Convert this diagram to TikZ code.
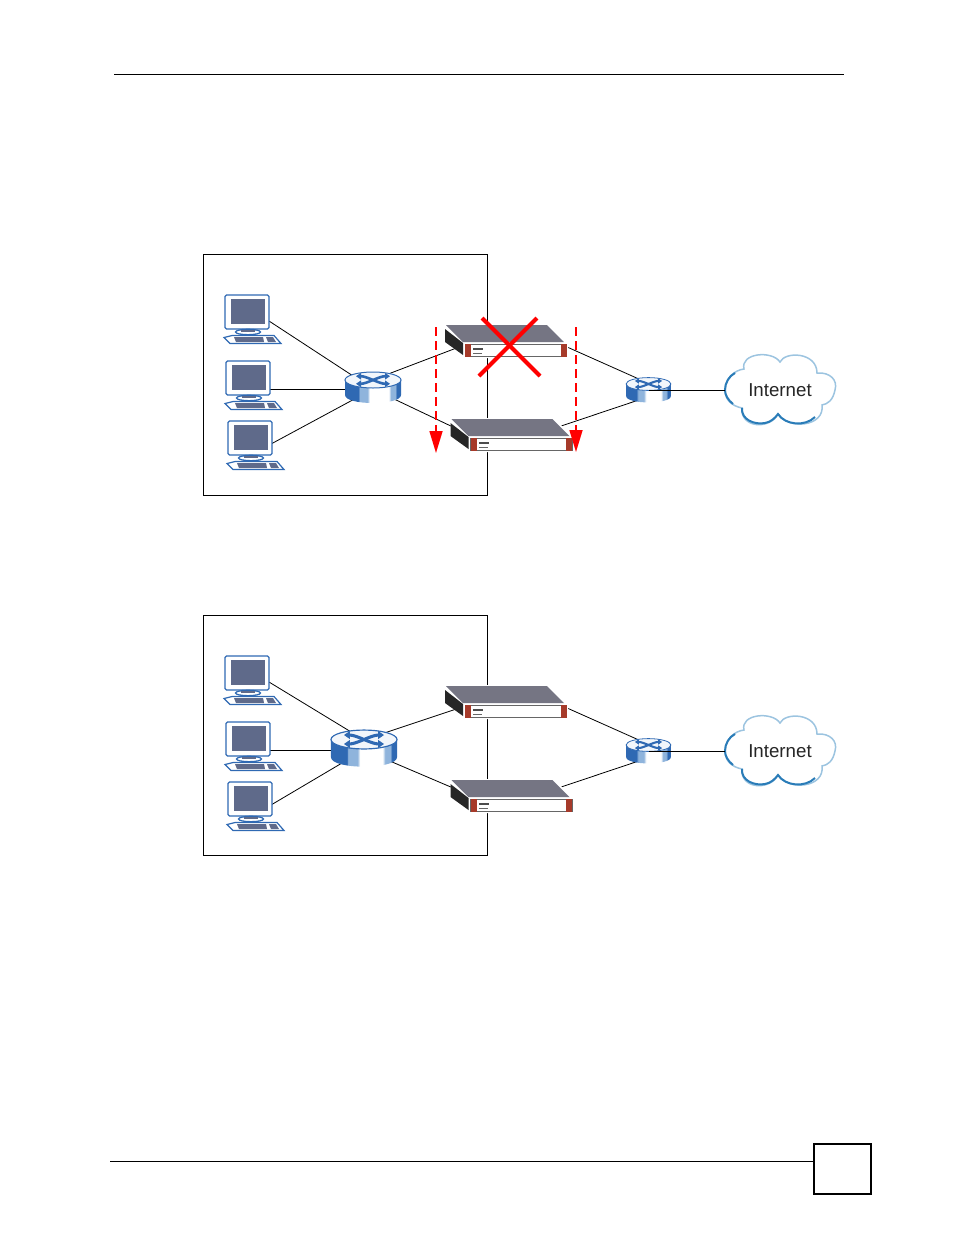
\documentclass[tikz,border=0pt]{standalone}
\usepackage{fontspec}
\setmainfont{Liberation Sans}
\usetikzlibrary{arrows.meta}
\definecolor{iconblue}{HTML}{2F69B3}
\definecolor{iconlight}{HTML}{8FB4DC}
\definecolor{screengrey}{HTML}{5F6A8A}
\definecolor{plategrey}{HTML}{757583}
\definecolor{platered}{HTML}{A63A2A}
\definecolor{cloudlight}{HTML}{9CC4E0}
\definecolor{clouddeep}{HTML}{2A7CB8}
\pgfdeclarehorizontalshading{routerbody}{100bp}{color(0bp)=(iconblue); color(37bp)=(iconblue); color(38bp)=(iconlight); color(45bp)=(iconlight); color(47bp)=(white); color(64bp)=(white); color(66bp)=(iconlight); color(70bp)=(iconlight); color(71bp)=(iconblue); color(100bp)=(iconblue)}
\tikzstyle{link} = [line width=0.8pt,black]
\tikzstyle{rule} = [line width=0.8pt,black]
\tikzstyle{port} = [inner sep=0pt,minimum size=0pt]
\tikzstyle{swport} = [inner sep=0pt,minimum width=0pt]
\tikzstyle{fwport} = [inner sep=0pt,minimum width=110pt,minimum height=0pt]
\tikzstyle{failover} = [red,line width=1.6pt,dash pattern=on 9pt off 5pt,-{Triangle[length=22pt,width=13pt]}]
\tikzstyle{crossout} = [red,line width=4pt]

% desktop, x y = top left of monitor
\newcommand{\pcicon}[2]{
\begin{scope}[shift={(#1,#2)}]
\draw[iconblue,fill=white,line width=1.2pt,rounded corners=1.5pt] (0,0) rectangle (44,34);
\fill[screengrey] (6,4) rectangle (40,29);
\draw[iconblue,fill=white,line width=1.3pt] (23,37) ellipse [x radius=12.5,y radius=2.7];
\fill[screengrey] (16,34.5) rectangle (30,37);
\draw[iconblue,fill=white,line width=1.2pt] (7,40.5) -- (49,40.5) -- (56,48.5) -- (5,48.5) -- (-1,42.5) -- cycle;
\fill[screengrey] (9,42) -- (38,42) -- (39,47) -- (11,47) -- cycle;
\fill[screengrey] (41,42) -- (48,42) -- (51,47) -- (43,47) -- cycle;
\end{scope}
}

% router, x y = middle of top face
\newcommand{\routericon}[3]{
\begin{scope}[shift={(#1,#2)},scale=#3]
\shade[shading=routerbody] (-28,0) -- (-28,15) .. controls (-28,25.7) and (28,25.7) .. (28,15) -- (28,0) -- cycle;
\draw[iconblue,fill=white!88!iconlight,line width=#3*1pt] (0,0) ellipse [x radius=28,y radius=8];
\draw[iconblue,line width=#3*2.6pt,{Triangle[length=#3*5pt,width=#3*6.5pt]}-{Triangle[length=#3*5pt,width=#3*6.5pt]}] (-17,-3.8) .. controls (-6,-3.8) and (6,3.8) .. (17,3.8);
\draw[iconblue,line width=#3*2.6pt,{Triangle[length=#3*5pt,width=#3*6.5pt]}-{Triangle[length=#3*5pt,width=#3*6.5pt]}] (-17,3.8) .. controls (-6,3.8) and (6,-3.8) .. (17,-3.8);
\end{scope}
}

% firewall box, x y = back left of top plate
\newcommand{\fwicon}[2]{
\begin{scope}[shift={(#1,#2)}]
\fill[white] (-2,2) -- (-1,-1) -- (102,-1) -- (122,18) -- (122,33) -- (17,33) -- cycle;
\fill[plategrey] (0,0) -- (101,0) -- (118,17) -- (17,17) -- cycle;
\fill[black!85] (-1,4) -- (17,18) -- (17,30) -- (-1,17) -- cycle;
\draw[black!60,fill=white,line width=0.8pt] (19,19) rectangle (120.5,31.5);
\fill[platered] (19,18.5) rectangle (25,32);
\fill[platered] (114.5,18.5) rectangle (120.5,32);
\fill[black!70] (27,23) rectangle (37,25);
\draw[black!60,line width=0.7pt] (27,28.5) -- (36,28.5);
\end{scope}
}

\begin{document}
\begin{tikzpicture}[x=1pt,y=-1pt]
\useasboundingbox (0,0) rectangle (954,1235);

% page furniture
\coordinate (headl) at (114,74);
\coordinate (headr) at (844,74);
\coordinate (footl) at (110,1161);
\node[draw,line width=1.4pt,minimum width=57pt,minimum height=50pt,inner sep=0pt] (pagebox) at (842.5,1169) {};
\draw[rule] (headl) -- (headr);
\draw[rule] (footl) -- (footl -| pagebox.west);

\foreach \p/\yo/\bh/\sx/\sy/\sh/\ss/\ty/\sa in {a/0/241/373/389/18/1/380/center,b/361/240/364/750/20/1.18/739.5/north}
{
\draw[line width=0.8pt] (203.5,254.5+\yo) rectangle (487.5,254.5+\yo+\bh);

\node[swport,minimum height=\sh pt] (sw\p) at (\sx,\sy) {};

\begin{scope}[shift={(0,\yo)}]
\node[port] (pc\p1) at (269,321) {};
\node[port] (pc\p2) at (270,389) {};
\node[port] (pc\p3) at (271,444) {};
\node[fwport] (fw\p1) at (513,347.5) {};
\node[fwport] (fw\p2) at (506,426) {};
\node[swport,minimum height=13pt] (gw\p) at (648.5,390) {};
\end{scope}

\draw[link] (pc\p1) -- (sw\p.\sa);
\draw[link] (pc\p2) -- (sw\p.center);
\draw[link] (pc\p3) -- (sw\p.center);
\draw[link] (sw\p.north) -- (fw\p1.west);
\draw[link] (sw\p.center) -- (fw\p2.west);
\draw[link] (fw\p1.east) -- (gw\p.north);
\draw[link] (fw\p2.east) -- (gw\p.south);

\foreach \px/\py in {225/295,226/361,228/421}
{
\pcicon{\px}{\py+\yo}
}
\routericon{\sx}{\ty}{\ss}
\routericon{648.5}{384+\yo}{0.8}
\fwicon{446}{325+\yo}
\fwicon{451.5}{419+\yo}

\begin{scope}[shift={(0,\yo)}]
\draw[cloudlight,fill=white,line width=1.5pt] (725,390) .. controls (725,378) and (735,370) .. (744,369) .. controls (740,353) and (772,350) .. (780,362) .. controls (785,351) and (817,352) .. (817,373) .. controls (830,372) and (838,380) .. (835,390) .. controls (833,400) and (828,404) .. (822,405) .. controls (825,427) and (788,430) .. (778,414) .. controls (770,430) and (740,428) .. (742,408) .. controls (732,406) and (725,400) .. (725,390) -- cycle;
\draw[clouddeep,line width=2pt] (735,373) .. controls (729,376) and (725,383) .. (725,390) .. controls (725,395) and (728,400) .. (733,404);
\draw[clouddeep,line width=2pt] (742,408) .. controls (741,420) and (755,425) .. (765,423) .. controls (771,422) and (775,418) .. (778,414) .. controls (785,425) and (805,427) .. (815,417);
\node[inner sep=0pt,minimum width=110pt,font=\fontsize{18.7pt}{20pt}\selectfont,text=black!85] (cloud\p) at (780,390) {Internet};
\draw[link] (gw\p) -- (cloud\p.west);
\end{scope}
}

% failover marks, top panel only
\coordinate (xa) at (482,318);
\coordinate (xb) at (540,376);
\coordinate (xc) at (537,318);
\coordinate (xd) at (479,376);
\draw[crossout] (xa) -- (xb);
\draw[crossout] (xc) -- (xd);
\coordinate (dropl) at (436,327);
\coordinate (dropr) at (576,327);
\coordinate (landl) at (436,453);
\coordinate (landr) at (576,452);
\draw[failover] (dropl) -- (landl);
\draw[failover] (dropr) -- (landr);
\end{tikzpicture}
\end{document}
